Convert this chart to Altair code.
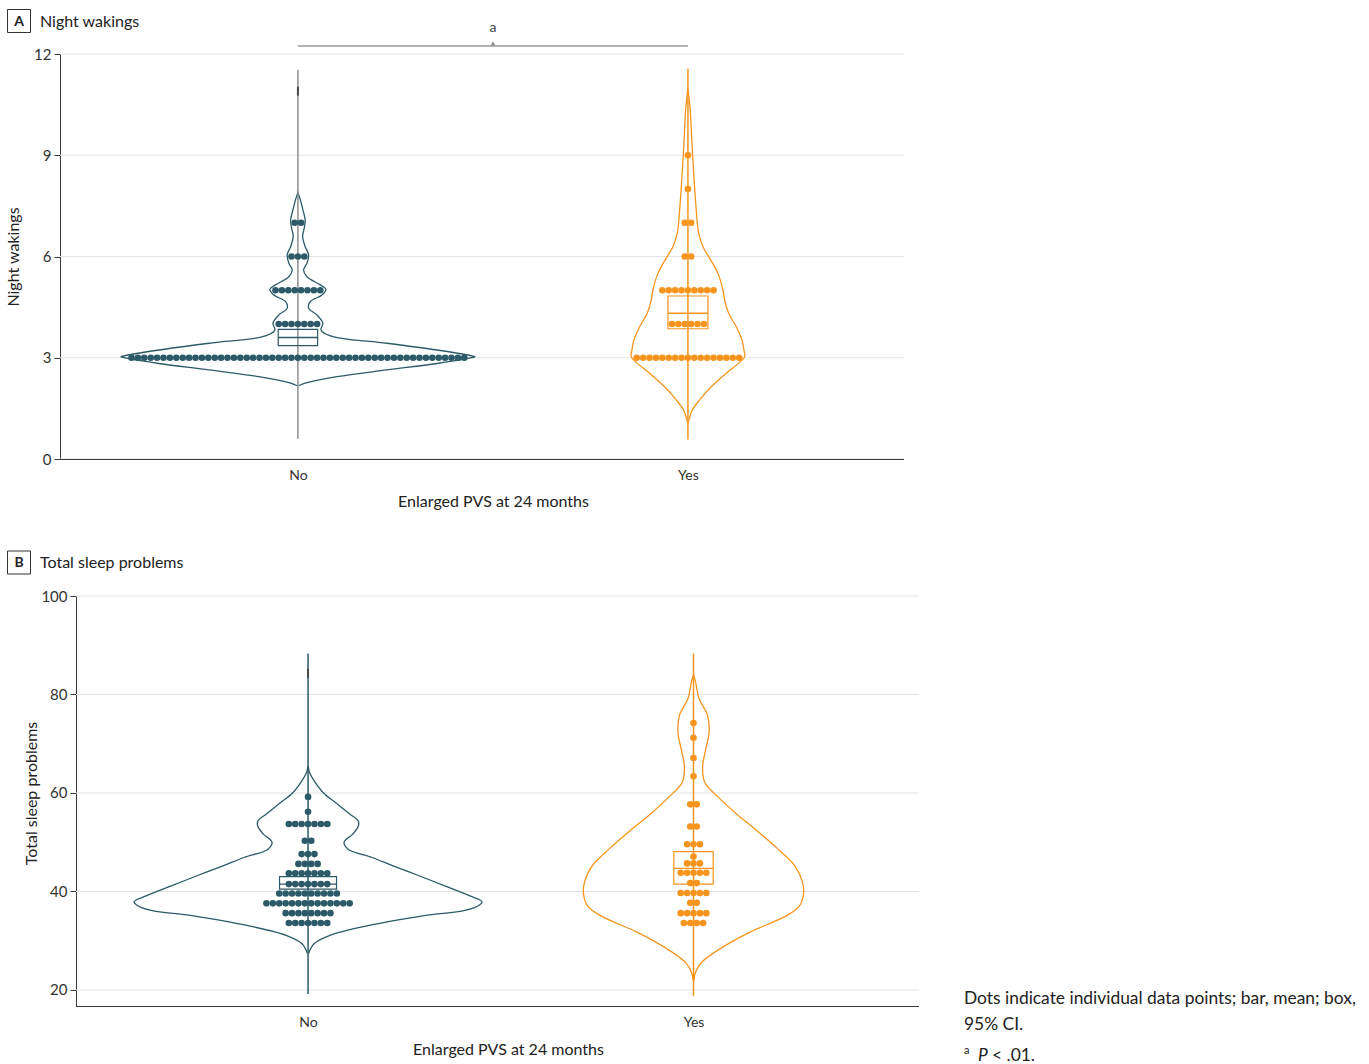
import altair as alt
import pandas as pd

FONT = "Lato"
GROUPS = ["No", "Yes"]
GROUP_POS = [1, 2]
TEAL = "#2d5a68"
ORANGE = "#f7941d"
GROUP_COLORS = [TEAL, ORANGE]

# ---------------- Panel A: night wakings ----------------
A_NO_VALS = [3, 4, 5, 6, 7]
A_NO_COUNTS = [53, 7, 8, 3, 2]
A_YES_VALS = [3, 4, 5, 6, 7, 8, 9]
A_YES_COUNTS = [17, 6, 9, 2, 2, 1, 1]
A_NO_OUTLIERS = [10.9]
A_MEAN = [3.60, 4.32]
A_CI_LO = [3.36, 3.86]
A_CI_HI = [3.84, 4.83]
A_RANGE_LO = [0.60, 0.58]
A_RANGE_HI = [11.53, 11.56]
A_TICKS = [0, 3, 6, 9, 12]
# violin outlines: value and density (half width)
A_NO_VIOLIN_V = [2.17, 2.26, 2.44, 2.64, 2.83, 3.01, 3.03, 3.05, 3.23, 3.43, 3.62, 3.78,
                 3.85, 4.02, 4.27, 4.47, 4.66, 4.86, 5.03, 5.16, 5.40, 5.60, 5.80, 6.05,
                 6.29, 6.59, 6.84, 7.08, 7.38, 7.67, 7.90]
A_NO_VIOLIN_D = [0.7, 9, 39, 89, 139, 175, 177, 175, 139, 89, 36, 24,
                 23, 25, 19, 10.7, 12.3, 24, 28, 22.3, 9, 5.7, 9, 10.7,
                 7.3, 4.7, 6.3, 7.3, 5, 2.5, 0]
A_YES_VIOLIN_V = [1.06, 1.16, 1.45, 1.75, 2.14, 2.54, 2.84, 3.03, 3.23, 3.53, 3.92, 4.32,
                  4.71, 5.01, 5.50, 5.90, 6.29, 6.69, 7.38, 8.36, 9.35, 10.34, 10.98]
A_YES_VIOLIN_D = [0, 1, 4.3, 11.7, 23.3, 38.3, 50.7, 56.7, 56, 54, 48.3, 40.7,
                  36.7, 35, 30, 22.7, 15, 10.7, 8.3, 6, 4, 2.3, 0]

# ---------------- Panel B: total sleep problems ----------------
B_NO_VALS = [33.6, 35.6, 37.6, 39.6, 41.5, 43.7, 45.6, 47.6, 50.3, 53.7, 56.2, 59.2]
B_NO_COUNTS = [7, 8, 14, 10, 7, 7, 4, 3, 2, 7, 1, 1]
B_YES_VALS = [33.6, 35.6, 37.7, 39.7, 41.7, 43.8, 45.7, 47.1, 49.6, 53.2, 57.7, 63.4,
              67.1, 71.2, 74.2]
B_YES_COUNTS = [4, 5, 2, 5, 2, 5, 3, 1, 3, 2, 2, 1, 1, 1, 1]
B_NO_OUTLIERS = [84.3]
B_MEAN = [41.5, 44.7]
B_CI_LO = [40.5, 41.5]
B_CI_HI = [43.0, 48.1]
B_RANGE_LO = [19.2, 18.8]
B_RANGE_HI = [88.3, 88.3]
B_TICKS = [20, 40, 60, 80, 100]
B_NO_VIOLIN_V = [27.4, 29.4, 31.1, 33.1, 35.1, 36.4, 37.9, 39.1, 41.2, 43.2, 45.2, 46.9,
                 48.6, 50.0, 51.7, 53.4, 54.4, 55.7, 57.8, 60.1, 62.5, 64.2, 65.5]
B_NO_VIOLIN_D = [0.5, 6, 22, 61, 116, 162, 174, 162, 136, 111, 85, 64,
                 40, 36, 45, 50.5, 50, 42, 29, 15, 6, 1.4, 0]
B_YES_VIOLIN_V = [22.0, 23.6, 25.6, 28.3, 31.7, 35.1, 37.1, 39.5, 41.9, 45.3, 48.7, 52.1,
                  55.5, 58.9, 62.3, 65.6, 69.0, 72.4, 75.8, 79.2, 82.6, 84.0]
B_YES_VIOLIN_D = [0.5, 2, 8, 26, 56, 93, 106, 110, 109, 101, 84, 65,
                  44.5, 26, 11, 9.2, 12.4, 15.6, 14, 5.5, 2, 0]

X_TITLE = "Enlarged PVS at 24 months"
NOTE_LINES = ["Dots indicate individual data points; bar, mean; box,", "95% CI."]

# layout / style constants
DOT_GAP_PX = 6.4
DOT_SIZE = 44
TXT = "#222222"
AXIS_COLOR = "#3a3a3a"
GRID_COLOR = "#e2e2e2"


def group_scale():
    return alt.Scale(domain=GROUPS, range=GROUP_COLORS)


def violin_rows(vals, dens, pos, group, ppu):
    rows = []
    n = len(vals)
    for k, (v, d) in enumerate(zip(vals, dens)):
        rows.append({"group": group, "k": k, "x": pos - d / ppu, "v": v})
    for k, (v, d) in enumerate(zip(reversed(vals), reversed(dens))):
        rows.append({"group": group, "k": n + k, "x": pos + d / ppu, "v": v})
    return rows


def dot_rows(vals, counts, pos, group, ppu):
    rows = []
    for v, n in zip(vals, counts):
        for i in range(n):
            rows.append({"group": group, "x": pos + (i - (n - 1) / 2) * DOT_GAP_PX / ppu, "v": v})
    return rows


def panel(cfg):
    W, H = cfg["width"], cfg["height"]
    xdom, ydom = cfg["xdom"], cfg["ydom"]
    inset = cfg["inset"]          # y axis drawn this many px inside the panel's left edge
    ppu = W / (xdom[1] - xdom[0])

    xscale = alt.Scale(domain=xdom, nice=False, zero=False)
    yscale = alt.Scale(domain=ydom, nice=False, zero=False)
    label_expr = f"datum.value == {GROUP_POS[0]} ? '{GROUPS[0]}' : '{GROUPS[1]}'"
    xaxis = alt.Axis(values=GROUP_POS, labelExpr=label_expr, grid=False, ticks=False,
                     domain=False, labelPadding=9, title=X_TITLE,
                     titlePadding=cfg["xtitle_pad"], titleX=cfg["xtitle_x"])
    yaxis = alt.Axis(values=cfg["yticks"], grid=False, tickSize=6, labelPadding=3,
                     labelFontSize=15, offset=-inset, title=cfg["ytitle"],
                     titlePadding=cfg["ytitle_pad"], titleY=cfg["ytitle_y"])

    def X(f):
        return alt.X(f, type="quantitative", scale=xscale, axis=xaxis)

    def Y(f):
        return alt.Y(f, type="quantitative", scale=yscale, axis=yaxis)

    # horizontal gridlines and the x axis baseline, starting at the y axis
    grid = alt.Chart(pd.DataFrame({"t": cfg["yticks"]})).mark_rule(
        color=GRID_COLOR, strokeWidth=1
    ).encode(y=Y("t"), x=alt.value(inset), x2=alt.value(W))
    base = alt.Chart(pd.DataFrame({"_": [0]})).mark_rule(
        color=AXIS_COLOR, strokeWidth=1
    ).encode(y=alt.value(H + 0.5), x=alt.value(inset), x2=alt.value(W))

    # violins
    vrows = []
    for (vv, dd), pos, g in zip(cfg["violins"], GROUP_POS, GROUPS):
        vrows += violin_rows(vv, dd, pos, g, ppu)
    violins = alt.Chart(pd.DataFrame(vrows)).mark_line(
        interpolate="catmull-rom", strokeWidth=1.3
    ).encode(
        x=X("x"), y=Y("v"),
        color=alt.Color("group:N", scale=group_scale(), legend=None),
        detail="group:N", order=alt.Order("k:Q"),
    )

    # range line through each violin
    rng = pd.DataFrame({"group": GROUPS, "pos": GROUP_POS, "lo": cfg["range_lo"],
                        "hi": cfg["range_hi"], "c": cfg["range_colors"]})
    ranges = alt.Chart(rng).mark_rule(strokeWidth=1.5).encode(
        x=X("pos"), y=Y("lo"), y2="hi", color=alt.Color("c:N", scale=None)
    )

    # individual points
    drows = []
    for (vals, counts), pos, g in zip(cfg["dots"], GROUP_POS, GROUPS):
        drows += dot_rows(vals, counts, pos, g, ppu)
    dots = alt.Chart(pd.DataFrame(drows)).mark_circle(size=DOT_SIZE, opacity=1).encode(
        x=X("x"), y=Y("v"),
        color=alt.Color("group:N", scale=group_scale(), legend=None),
    )

    # single points squeezed inside the narrow violin tail
    out = pd.DataFrame({"pos": [GROUP_POS[0]] * len(cfg["outliers"]), "v": cfg["outliers"]})
    outliers = alt.Chart(out).mark_tick(orient="vertical", thickness=2, size=9,
                                         color="#4a4a4a", opacity=1).encode(x=X("pos"), y=Y("v"))

    # mean bar and 95% CI box
    half = cfg["box_half_px"]
    st = pd.DataFrame({
        "group": GROUPS,
        "x0": [p - h / ppu for p, h in zip(GROUP_POS, half)],
        "x1": [p + h / ppu for p, h in zip(GROUP_POS, half)],
        "mean": cfg["mean"], "lo": cfg["ci_lo"], "hi": cfg["ci_hi"],
    })
    boxes = alt.Chart(st).mark_rect(filled=False, strokeWidth=1.2).encode(
        x=X("x0"), x2="x1", y=Y("lo"), y2="hi",
        color=alt.Color("group:N", scale=group_scale(), legend=None),
    )
    means = alt.Chart(st).mark_rule(strokeWidth=1.4).encode(
        x=X("x0"), x2="x1", y=Y("mean"),
        color=alt.Color("group:N", scale=group_scale(), legend=None),
    )

    layers = [grid, base, violins, ranges, dots, outliers, boxes, means]

    one = pd.DataFrame({"_": [0]})
    # panel letter box and heading
    bx = cfg["badge"]
    layers.append(alt.Chart(one).mark_rect(fill="white", stroke="#333", strokeWidth=1).encode(
        x=alt.value(bx[0]), x2=alt.value(bx[0] + 23), y=alt.value(bx[1]), y2=alt.value(bx[1] + 23)))
    layers.append(alt.Chart(one).mark_text(font=FONT, fontSize=14, fontWeight="bold", color=TXT,
                                          align="center", baseline="middle").encode(
        x=alt.value(bx[0] + 11.5), y=alt.value(bx[1] + 12), text=alt.value(cfg["letter"])))
    layers.append(alt.Chart(one).mark_text(font=FONT, fontSize=16, color=TXT,
                                          align="left", baseline="middle").encode(
        x=alt.value(bx[0] + 32.5), y=alt.value(bx[1] + 12), text=alt.value(cfg["heading"])))

    for extra in cfg.get("extras", []):
        layers.append(extra(X, one))

    return alt.layer(*layers).properties(width=W, height=H)


def sig_bracket(X, one):
    br = pd.DataFrame({"x1": [GROUP_POS[0]], "x2": [GROUP_POS[1]],
                       "mid": [(GROUP_POS[0] + GROUP_POS[1]) / 2]})
    line = alt.Chart(br).mark_rule(color="#9a9a9a", strokeWidth=1.5).encode(
        x=X("x1"), x2="x2", y=alt.value(-8))
    tri = alt.Chart(br).mark_point(shape="triangle-up", filled=True, size=22,
                                   color="#8a8a8a", opacity=1).encode(x=X("mid"), y=alt.value(-10.5))
    lab = alt.Chart(br).mark_text(font=FONT, fontSize=14, color="#444",
                                  baseline="middle").encode(
        x=X("mid"), y=alt.value(-26), text=alt.value("a"))
    return alt.layer(line, tri, lab)


def footnote(X, one):
    nx, ny = 904, 403
    parts = []
    for i, line in enumerate(NOTE_LINES):
        parts.append(alt.Chart(one).mark_text(font=FONT, fontSize=17.4, color=TXT, align="left",
                                              baseline="middle").encode(
            x=alt.value(nx), y=alt.value(ny + 26 * i), text=alt.value(line)))
    parts.append(alt.Chart(one).mark_text(font=FONT, fontSize=11, color=TXT, align="left",
                                          baseline="middle").encode(
        x=alt.value(nx), y=alt.value(ny + 52), text=alt.value("a")))
    parts.append(alt.Chart(one).mark_text(font=FONT, fontSize=17.4, fontStyle="italic", color=TXT,
                                          align="left", baseline="middle").encode(
        x=alt.value(nx + 14), y=alt.value(ny + 57), text=alt.value("P")))
    parts.append(alt.Chart(one).mark_text(font=FONT, fontSize=17.4, color=TXT, align="left",
                                          baseline="middle").encode(
        x=alt.value(nx + 28), y=alt.value(ny + 57), text=alt.value("< .01.")))
    return alt.layer(*parts)


panel_a = panel({
    "width": 844, "height": 405, "inset": 0, "xdom": [0.39, 2.554], "ydom": [0, 12],
    "yticks": A_TICKS, "ytitle": "Night wakings", "ytitle_pad": 12, "ytitle_y": 202.5,
    "xtitle_pad": 11, "xtitle_x": 433,
    "violins": [(A_NO_VIOLIN_V, A_NO_VIOLIN_D), (A_YES_VIOLIN_V, A_YES_VIOLIN_D)],
    "dots": [(A_NO_VALS, A_NO_COUNTS), (A_YES_VALS, A_YES_COUNTS)],
    "outliers": A_NO_OUTLIERS,
    "range_lo": A_RANGE_LO, "range_hi": A_RANGE_HI, "range_colors": ["#8e8e8e", ORANGE],
    "mean": A_MEAN, "ci_lo": A_CI_LO, "ci_hi": A_CI_HI, "box_half_px": [19.7, 20],
    "badge": (-52.5, -44.5), "letter": "A", "heading": "Night wakings",
    "extras": [sig_bracket],
})

panel_b = panel({
    "width": 859, "height": 410, "inset": 16, "xdom": [0.3565, 2.585], "ydom": [16.75, 100],
    "yticks": B_TICKS, "ytitle": "Total sleep problems", "ytitle_pad": 1, "ytitle_y": 197,
    "xtitle_pad": 12, "xtitle_x": 448,
    "violins": [(B_NO_VIOLIN_V, B_NO_VIOLIN_D), (B_YES_VIOLIN_V, B_YES_VIOLIN_D)],
    "dots": [(B_NO_VALS, B_NO_COUNTS), (B_YES_VALS, B_YES_COUNTS)],
    "outliers": B_NO_OUTLIERS,
    "range_lo": B_RANGE_LO, "range_hi": B_RANGE_HI, "range_colors": [TEAL, ORANGE],
    "mean": B_MEAN, "ci_lo": B_CI_LO, "ci_hi": B_CI_HI, "box_half_px": [28.5, 19.7],
    "badge": (-52.5, -45), "letter": "B", "heading": "Total sleep problems",
    "extras": [footnote],
})

chart = alt.concat(panel_a, panel_b, columns=1, spacing=41).properties(
    padding={"left": 5, "top": 9, "right": 5, "bottom": 0},
).configure_axis(
    labelFont=FONT, titleFont=FONT, labelFontSize=14, titleFontSize=16,
    labelColor="#333", titleColor=TXT, titleFontWeight="normal",
    domainColor=AXIS_COLOR, tickColor=AXIS_COLOR, domainWidth=1,
).configure_view(stroke=None)

chart.save("out.html", embed_options={"renderer": "svg", "actions": False})
